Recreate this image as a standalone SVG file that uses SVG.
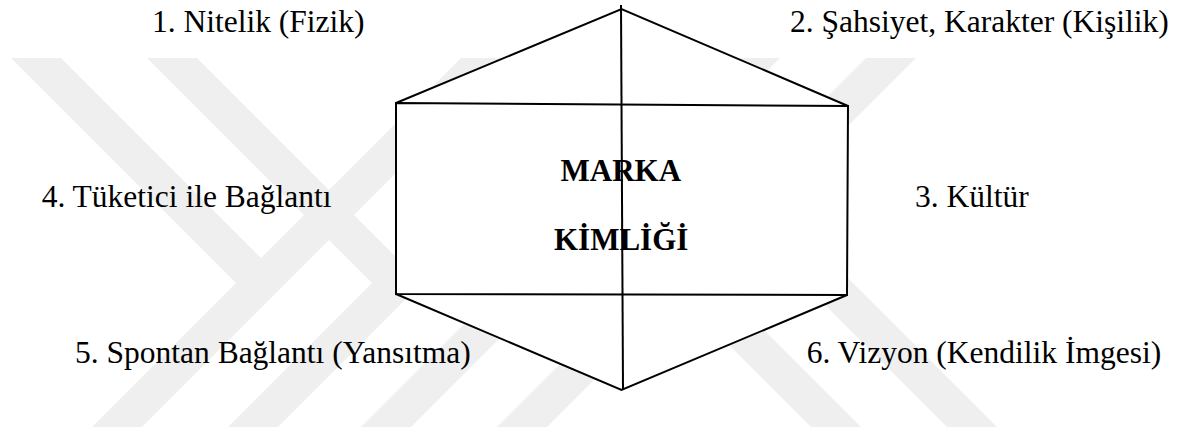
<svg xmlns="http://www.w3.org/2000/svg" width="1189" height="433" viewBox="0 0 1189 433">
  <style>
    .label { font-family: "Liberation Serif", "Times New Roman", serif; font-size: 31.5px; fill: #000; }
    .title { font-family: "Liberation Serif", "Times New Roman", serif; font-size: 31px; font-weight: bold; fill: #000; }
    .edge { fill: none; stroke: #000; stroke-width: 2; stroke-linejoin: miter; }
    .mark { fill: #efefef; }
  </style>
  <rect width="1189" height="433" fill="#fff"/>

  <!-- faint background emblem: diagonal bands -->
  <g id="emblem">
    <polygon class="mark" points="92,427 142,427 511,58 461,58"/>
    <polygon class="mark" points="228,427 278,427 647,58 597,58"/>
    <polygon class="mark" points="361,427 411,427 780,58 730,58"/>
    <polygon class="mark" points="497,427 547,427 916,58 866,58"/>
    <polygon class="mark" points="11,58 61,58 286,283 236,283"/>
    <polygon class="mark" points="147,58 197,58 422,283 372,283"/>
    <polygon class="mark" points="947,427 997,427 772,202 722,202"/>
    <polygon class="mark" points="811,427 861,427 636,202 586,202"/>
  </g>

  <!-- central hexagon -->
  <g id="brand-identity">
    <polygon points="621.5,9 848,106 847,295 621.5,390 396,294 396,103" fill="#fff" stroke="none"/>
    <polyline class="edge" points="396,103 621.5,9 848,106"/>
    <polyline class="edge" points="396,294 621.5,390 847,295"/>
    <polygon class="edge" points="396,103 848,106 847,295 396,294"/>
    <text class="title" x="560.5" y="180.5">MARKA</text>
    <text class="title" x="554" y="249.5">KİMLİĞİ</text>
  </g>

  <!-- vertical divider through the hexagon -->
  <g id="connectors">
    <line class="edge" x1="621" y1="5" x2="623" y2="389"/>
  </g>

  <g id="n1"><text class="label" x="152" y="32.3">1. Nitelik (Fizik)</text></g>
  <g id="n2"><text class="label" x="790" y="32.3">2. Şahsiyet, Karakter (Kişilik)</text></g>
  <g id="n3"><text class="label" x="915" y="206.7">3. Kültür</text></g>
  <g id="n4"><text class="label" x="41.7" y="206.7">4. Tüketici ile Bağlantı</text></g>
  <g id="n5"><text class="label" x="75" y="363.3">5. Spontan Bağlantı (Yansıtma)</text></g>
  <g id="n6"><text class="label" x="806.7" y="363.3">6. Vizyon (Kendilik İmgesi)</text></g>
</svg>
